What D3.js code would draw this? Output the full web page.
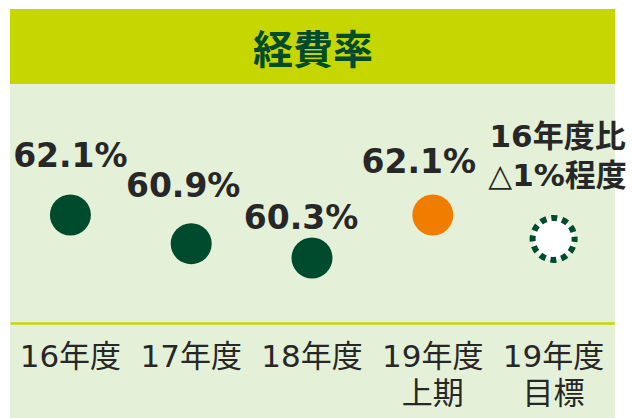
<!DOCTYPE html>
<html>
<head>
<meta charset="utf-8">
<script src="https://cdn.jsdelivr.net/npm/d3@7"></script>
<style>
  html, body { margin: 0; padding: 0; background: #fff; }
  svg { display: block; }
</style>
</head>
<body>
<svg id="chart" width="632" height="418"></svg>
<script>
// ---- data ----
const title = "経費率";
const categories = ["16年度", "17年度", "18年度", "19年度上期", "19年度目標"];
const categoryLabels = [["16年度"], ["17年度"], ["18年度"], ["19年度", "上期"], ["19年度", "目標"]];
const values = [62.1, 60.9, 60.3, 62.1, 61.1];
const pointKinds = ["actual", "actual", "actual", "half", "target"];
const valueLabels = [["62.1%"], ["60.9%"], ["60.3%"], ["62.1%"], ["16年度比", "△1%程度"]];

// ---- layout (not data) ----
const labelDx = [0, -8, -11, -14, 4];
const labelDy = [48, 47, 29, 42, 53];
const labelSize = [33, 33, 33, 33, 31];

const W = 632, H = 418;
const panel = { left: 10, right: 615, top: 9, headerBottom: 84, axisY: 323 };
const colors = {
  header: "#c5d600", panel: "#e4f1d8", divider: "#c8d400",
  title: "#004b2c", text: "#272727", actual: "#004b2e", half: "#f07c00", targetFill: "#ffffff"
};
const latin = "'DejaVu Sans', 'Noto Sans CJK JP', sans-serif";

const svg = d3.select("#chart");

// backgrounds
svg.append("rect").attr("x", panel.left).attr("y", panel.headerBottom)
  .attr("width", panel.right - panel.left).attr("height", H - panel.headerBottom)
  .attr("fill", colors.panel);
svg.append("rect").attr("x", panel.left).attr("y", panel.top)
  .attr("width", panel.right - panel.left).attr("height", panel.headerBottom - panel.top)
  .attr("fill", colors.header);

svg.append("text").attr("x", 313).attr("y", 64)
  .attr("text-anchor", "middle")
  .attr("font-family", "'Noto Sans CJK JP', sans-serif")
  .attr("font-weight", 700).attr("font-size", 40)
  .attr("fill", colors.title).text(title);

// scales
const x = d3.scaleBand().domain(categories).range([panel.left, panel.right - 1]);
const cx = c => x(c) + x.bandwidth() / 2;
const y = d3.scaleLinear().domain([60.3, 62.1]).range([258, 215]);

// axis
const axis = d3.axisBottom(x).tickSize(0).tickFormat("");
const gAxis = svg.append("g").attr("transform", `translate(0,${panel.axisY})`).call(axis);
gAxis.select(".domain").attr("stroke", colors.divider).attr("stroke-width", 2.5);

const tickText = svg.append("g").selectAll("text").data(categories).join("text")
  .attr("x", d => cx(d)).attr("y", 367)
  .attr("text-anchor", "middle")
  .attr("font-family", latin).attr("font-size", 31)
  .attr("fill", colors.text);
tickText.each(function(d, i) {
  d3.select(this).selectAll("tspan").data(categoryLabels[i]).join("tspan")
    .attr("x", cx(d)).attr("dy", (t, j) => j === 0 ? 0 : 37).text(t => t);
});

// points
const r = 20.5, rTarget = 21;
svg.append("g").selectAll("circle").data(categories).join("circle")
  .attr("cx", d => cx(d)).attr("cy", (d, i) => y(values[i]))
  .attr("r", (d, i) => pointKinds[i] === "target" ? rTarget : r)
  .attr("fill", (d, i) => pointKinds[i] === "target" ? colors.targetFill : colors[pointKinds[i]])
  .attr("stroke", (d, i) => pointKinds[i] === "target" ? colors.actual : "none")
  .attr("stroke-width", (d, i) => pointKinds[i] === "target" ? 6 : 0)
  .attr("stroke-dasharray", (d, i) => {
    if (pointKinds[i] !== "target") return null;
    const per = 2 * Math.PI * rTarget / 12;
    return `${per * 0.55} ${per * 0.45}`;
  })
  .attr("stroke-dashoffset", 3);

// value labels
const vl = svg.append("g").selectAll("text").data(categories).join("text")
  .attr("text-anchor", "middle")
  .attr("font-family", latin).attr("font-weight", 700)
  .attr("font-size", (d, i) => labelSize[i])
  .attr("fill", colors.text);
vl.each(function(d, i) {
  const lines = valueLabels[i];
  const base = y(values[i]) - labelDy[i];
  const px = cx(d) + labelDx[i];
  d3.select(this).selectAll("tspan").data(lines).join("tspan")
    .attr("x", px)
    .attr("y", (t, j) => base - (lines.length - 1 - j) * 39)
    .text(t => t);
});
</script>
</body>
</html>
